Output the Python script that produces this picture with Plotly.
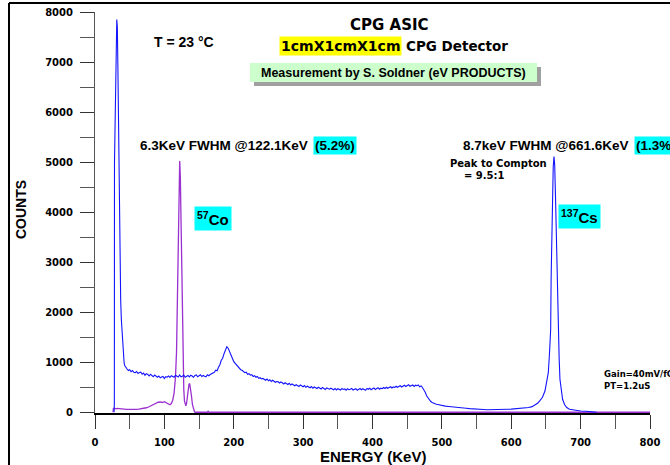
import plotly.graph_objects as go

# ---- 57Co spectrum (keV, counts) ----
co_keV = [26.0, 26.5, 28, 30, 32, 34, 36, 38, 40, 42, 45, 48, 50, 53, 56, 60, 63, 66, 70, 74,
          78, 82, 85, 88, 91, 94, 97, 100, 103, 106, 108, 110, 112, 114, 116, 117.5, 118.5,
          119.5, 120.5, 121.3, 122.1, 123, 124, 125, 126, 127, 128, 129, 130, 131, 132, 133,
          134, 135.5, 136.5, 137.5, 139, 140.5, 142, 143.5, 145, 162, 163, 164, 800]
co_counts = [0, 75, 80, 70, 78, 72, 70, 68, 66, 62, 58, 55, 57, 54, 55, 58, 62, 66, 75, 90,
             110, 140, 165, 185, 200, 205, 195, 210, 190, 160, 150, 175, 240, 380, 700, 1200, 2000,
             3000, 4000, 4700, 5020, 4700, 3800, 2700, 1700, 900, 450, 220, 140, 130, 180, 300,
             440, 560, 575, 500, 330, 150, 40, 5, 0, 0, 20, 0, 0]

# ---- 137Cs spectrum ----
# low-energy noise peak
cs_low_keV = [27.5, 27.9, 28.1, 29.0, 29.8, 30.6, 31.4, 32.2, 33.0, 33.6, 34.3, 35.1, 36.0,
              37.0, 38.0, 38.9, 39.8, 40.8, 42.0, 43.0]
cs_low_counts = [0, 180, 4990, 5600, 6550, 7300, 7850, 7700, 6900, 6050, 4800, 3650, 2900,
                 2250, 1850, 1600, 1300, 1060, 980, 930]

# continuum 44..170 keV, 2 keV channels
cs_a_keV = list(range(44, 171, 2))
cs_a_counts = [900, 870, 835, 850, 810, 835, 800, 790,
               815, 775, 795, 800, 760, 785, 740, 770,
               755, 725, 760, 740, 710, 745, 720, 700,
               725, 690, 705, 715, 675, 710, 700, 725,
               695, 730, 715, 700, 740, 725, 705, 745,
               710, 720, 745, 700, 715, 735, 705, 740,
               725, 700, 735, 745, 710, 725, 750, 715,
               735, 720, 710, 750, 730, 755, 765, 790]

# backscatter peak 172..240 keV
cs_b_keV = list(range(172, 241, 2))
cs_b_counts = [800, 840, 830, 900, 950, 1040, 1080,
               1170, 1230, 1310, 1280, 1200, 1130, 1080,
               1010, 980, 930, 900, 880, 850, 840,
               820, 790, 800, 760, 770, 740, 750,
               715, 730, 700, 715, 680, 690, 665]

# Compton continuum 242..472 keV
cs_c_keV = list(range(242, 473, 2))
cs_c_counts = [675, 660, 640, 665, 630, 650, 615, 640,
               625, 600, 615, 610, 585, 605, 590, 565,
               590, 570, 555, 580, 545, 565, 555, 530,
               550, 540, 515, 545, 525, 510, 535, 500,
               520, 510, 490, 515, 480, 505, 495, 475,
               500, 480, 465, 495, 470, 455, 485, 470,
               460, 480, 465, 450, 475, 445, 470, 460,
               445, 475, 455, 465, 440, 470, 450, 460,
               475, 445, 460, 470, 440, 465, 475, 450,
               470, 455, 440, 475, 460, 480, 450, 470,
               485, 455, 475, 490, 460, 480, 470, 495,
               475, 500, 480, 490, 510, 485, 505, 495,
               520, 500, 515, 530, 505, 525, 540, 515,
               530, 550, 520, 540, 545, 515, 540, 530,
               545, 510, 525, 495]

# Compton edge, valley and 661.6 keV photopeak
cs_d_keV = [474, 476, 478, 480, 482, 484, 486, 488, 490, 492, 494, 496, 498,
            500, 505, 510, 515, 520, 525, 530, 535, 540, 545, 550, 555, 560, 565, 570,
            575, 580, 585, 590, 595, 600, 605, 610, 615, 620, 625, 630,
            634, 638, 641, 645, 648.6, 651, 653.4, 655, 656.8, 657.5, 658.5, 659.5, 660.5,
            661.6, 662.6, 663.8, 665, 666, 667, 668, 669, 670.2, 672, 674, 677, 680, 684,
            689, 695, 700, 708, 715, 723]
cs_d_counts = [455, 400, 330, 285, 245, 215, 195, 180, 170, 160, 155, 148, 140,
               135, 122, 115, 105, 100, 95, 87, 80, 72, 64, 58, 52, 55, 50, 54,
               50, 52, 55, 57, 60, 62, 66, 72, 78, 86, 96, 112,
               140, 180, 226, 300, 425, 600, 790, 1150, 1650, 2700, 3500, 4300, 4900,
               5110, 4950, 4300, 3400, 2550, 2000, 1600, 1100, 660, 400, 260, 150, 95, 60,
               45, 30, 25, 20, 15, 0]

cs_keV = cs_low_keV + cs_a_keV + cs_b_keV + cs_c_keV + cs_d_keV
cs_counts = cs_low_counts + cs_a_counts + cs_b_counts + cs_c_counts + cs_d_counts

x_ticks = list(range(0, 801, 100))
y_ticks = list(range(0, 8001, 1000))

BOLD = "Liberation Sans"
WIDE = "DejaVu Sans"

fig = go.Figure()
fig.add_trace(go.Scatter(x=co_keV, y=co_counts, mode="lines",
                         line=dict(color="#9b30d0", width=1.3), hoverinfo="skip"))
fig.add_trace(go.Scatter(x=cs_keV, y=cs_counts, mode="lines",
                         line=dict(color="#1414ff", width=1.1), hoverinfo="skip"))


def px_x(p):
    return (p - 95) / 555.0


def px_y(p):
    return (413 - p) / 401.0


shapes = [
    # page frame (left and top edges)
    dict(type="line", xref="paper", yref="paper", x0=px_x(9), x1=px_x(9),
         y0=px_y(3), y1=px_y(470), line=dict(color="black", width=2)),
    dict(type="line", xref="paper", yref="paper", x0=px_x(9), x1=px_x(675),
         y0=px_y(3), y1=px_y(3), line=dict(color="black", width=2)),
    # credit box with drop shadow
    dict(type="rect", xref="paper", yref="paper", x0=px_x(254), x1=px_x(541),
         y0=px_y(86), y1=px_y(67), line=dict(width=0), fillcolor="#a0a0a0", layer="below"),
    dict(type="rect", xref="paper", yref="paper", x0=px_x(250), x1=px_x(537),
         y0=px_y(82), y1=px_y(63), line=dict(width=0), fillcolor="#ccffcc", layer="below"),
]


def ann(text, x, y, size, xanchor="center", bg=None, family=BOLD, pad=1, angle=0):
    d = dict(text=text, xref="paper", yref="paper", x=px_x(x), y=px_y(y),
             xanchor=xanchor, yanchor="middle", showarrow=False, textangle=angle,
             font=dict(family=family, size=size, color="black", weight="bold"),
             borderpad=pad)
    if bg:
        d["bgcolor"] = bg
    return d


annotations = [
    ann("CPG ASIC", 389, 25, 15, family=WIDE),
    ann("T = 23 °C", 184, 42, 14),
    ann("1cmX1cmX1cm", 402, 46, 14, xanchor="right", bg="#ffff00", family=WIDE),
    ann("CPG Detector", 404, 46, 13.5, xanchor="left", family=WIDE),
    ann("Measurement by S. Soldner (eV PRODUCTS)", 393, 72.5, 12.5),
    ann("6.3KeV FWHM @122.1KeV ", 313, 145, 13.5, xanchor="right"),
    ann("(5.2%)", 313, 145, 13.5, xanchor="left", bg="#00ffff"),
    ann("<sup>57</sup>Co", 213, 219, 15, bg="#00ffff", pad=2),
    ann("8.7keV FWHM @661.6KeV ", 634, 145, 13.5, xanchor="right"),
    ann("(1.3%)", 634, 145, 13.5, xanchor="left", bg="#00ffff"),
    ann("Peak to Compton", 448, 163, 10, xanchor="left", family=WIDE),
    ann("= 9.5:1", 462, 175, 10, xanchor="left", family=WIDE),
    ann("<sup>137</sup>Cs", 579, 216, 15, bg="#00ffff", pad=2),
    ann("Gain=40mV/fC", 602, 374, 8.5, xanchor="left", family=WIDE),
    ann("PT=1.2uS", 602, 386, 8.5, xanchor="left", family=WIDE),
    # axis titles
    ann("ENERGY (KeV)", 373, 456, 15),
    ann("COUNTS", 21, 210, 14, angle=-90),
]

fig.update_layout(
    width=670, height=465,
    margin=dict(l=95, r=20, t=12, b=52, autoexpand=False),
    paper_bgcolor="white", plot_bgcolor="white",
    showlegend=False,
    shapes=shapes,
    annotations=annotations,
    font=dict(family=BOLD, color="black"),
)

fig.update_xaxes(
    range=[0, 800], tickvals=x_ticks, ticktext=[str(v) for v in x_ticks],
    automargin=False,
    showgrid=False, zeroline=False,
    showline=True, linecolor="black", linewidth=2, layer="below traces",
    ticks="outside", ticklen=14, tickcolor="#333333", tickwidth=1,
    minor=dict(dtick=50, ticks="outside", ticklen=14, tickcolor="#555555", tickwidth=1),
    tickfont=dict(family=WIDE, size=10, color="black", weight="bold"),
    ticklabelstandoff=5,
)
fig.update_yaxes(
    range=[-15, 8000], tickvals=y_ticks, ticktext=[str(v) for v in y_ticks],
    automargin=False,
    showgrid=False, zeroline=False,
    showline=True, linecolor="#555555", linewidth=1,
    ticks="outside", ticklen=14, tickcolor="#333333", tickwidth=1,
    minor=dict(dtick=500, ticks="outside", ticklen=14, tickcolor="#555555", tickwidth=1),
    tickfont=dict(family=WIDE, size=10, color="black", weight="bold"),
    ticklabelstandoff=5,
)

fig.write_html("out.html")
